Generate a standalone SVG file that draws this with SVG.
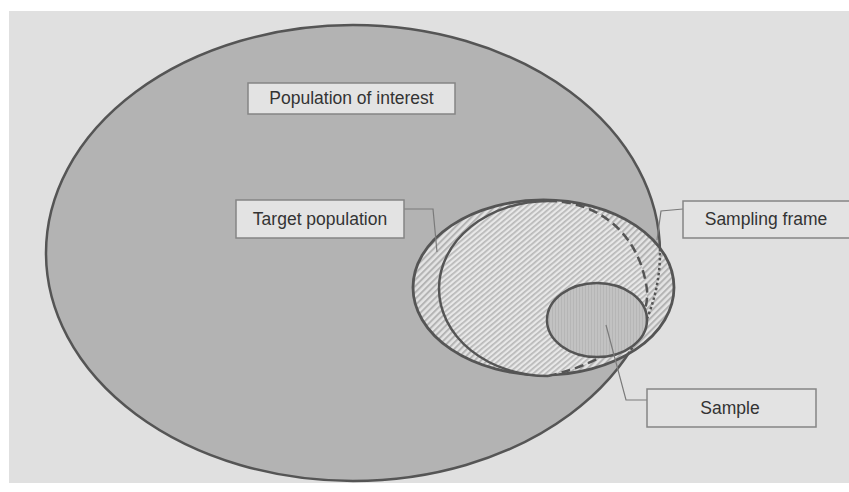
<svg xmlns="http://www.w3.org/2000/svg" width="849" height="492" viewBox="0 0 849 492">
<defs>
<style>
.lbl{fill:#e3e3e3;stroke:#858585;stroke-width:1.5}
.txt{font-family:"Liberation Sans",Arial,sans-serif;font-size:17.5px;fill:#333;text-anchor:middle}
.con{fill:none;stroke:#7a7a7a;stroke-width:1.2}
.edge{fill:none;stroke:#555;stroke-width:2.5}
</style>
<pattern id="hatchA" patternUnits="userSpaceOnUse" width="4.5" height="4.5" patternTransform="rotate(-45)">
<rect width="4.5" height="4.5" fill="#e4e4e4"/>
<rect width="4.5" height="2" fill="#b4b4b4"/>
</pattern>
<pattern id="hatchB" patternUnits="userSpaceOnUse" width="4" height="4" patternTransform="rotate(-40)">
<rect width="4" height="4" fill="#e8e8e8"/>
<rect width="4" height="1.7" fill="#b8b8b8"/>
</pattern>
<pattern id="vert" patternUnits="userSpaceOnUse" width="3" height="3">
<rect width="3" height="3" fill="#c2c2c2"/>
<rect width="1" height="3" fill="#b6b6b6"/>
</pattern>
<clipPath id="tpClip"><ellipse cx="543.5" cy="287.5" rx="130.5" ry="87.5"/></clipPath>
</defs>
<rect x="0" y="0" width="849" height="492" fill="#ffffff"/>
<rect x="9" y="11" width="840" height="472" fill="#e0e0e0"/>

<g id="population-of-interest">
<ellipse cx="353" cy="253" rx="307" ry="228" fill="#b3b3b3" stroke="#555" stroke-width="2.5"/>
</g>

<g id="target-population">
<ellipse cx="543.5" cy="287.5" rx="130.5" ry="87.5" fill="url(#hatchA)" stroke="#555" stroke-width="2.8"/>
</g>

<g id="sampling-frame">
<path d="M548,201 C600,201 640,235 647,290 C650,330 610,362 548,376 A109,87.5 0 0 1 548,201 Z" fill="url(#hatchB)" stroke="none"/>
<path class="edge" d="M548,376 A109,87.5 0 0 1 548,201" stroke-width="2.8"/>
<path class="edge" d="M548,201 C600,201 640,235 647,290 C650,330 610,362 548,376" stroke-dasharray="9,5"/>
<ellipse cx="353" cy="253" rx="307" ry="228" fill="none" stroke="#555" stroke-width="2.5" stroke-dasharray="2.5,2.5" clip-path="url(#tpClip)"/>
</g>

<g id="sample">
<ellipse cx="597" cy="320" rx="50" ry="37" fill="url(#vert)" stroke="#555" stroke-width="2.5"/>
</g>

<g id="connectors">
<path class="con" d="M404,209 L433,209 L437,252"/>
<path class="con" d="M683,209 L661,211 L657,240"/>
<path class="con" d="M647,400 L626,400 L606,325"/>
</g>

<g id="label-population">
<rect class="lbl" x="248" y="83" width="207" height="31"/>
<text class="txt" x="351.5" y="103.5">Population of interest</text>
</g>
<g id="label-target">
<rect class="lbl" x="236" y="200" width="168" height="38"/>
<text class="txt" x="320" y="225">Target population</text>
</g>
<g id="label-frame">
<rect class="lbl" x="683" y="201" width="168" height="37"/>
<text class="txt" x="766" y="225">Sampling frame</text>
</g>
<g id="label-sample">
<rect class="lbl" x="647" y="389" width="169" height="38"/>
<text class="txt" x="730" y="414">Sample</text>
</g>
</svg>
